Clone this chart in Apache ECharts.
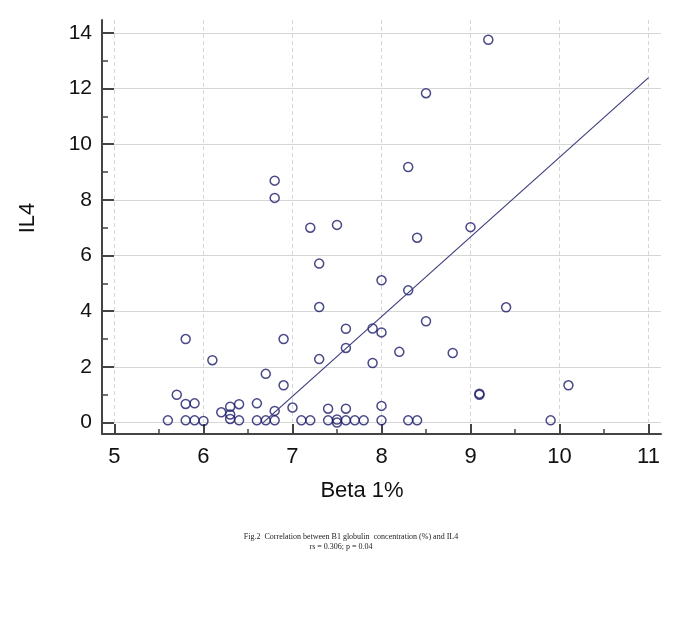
<!DOCTYPE html>
<html>
<head>
<meta charset="utf-8">
<script src="https://cdn.jsdelivr.net/npm/echarts@6/dist/echarts.min.js"></script>
<style>
  html, body { margin: 0; padding: 0; background: #ffffff; }
  #chart { width: 693px; height: 619px; }
</style>
</head>
<body>
<div id="chart"></div>
<script>
// ---- data ----
const betaValues = [
  9.2, 8.5, 8.3, 6.8, 6.8, 7.2, 7.5, 9.0, 8.4, 7.3,
  8.0, 8.3, 7.3, 9.4, 8.5, 7.6, 7.9, 8.0, 5.8, 6.9,
  7.6, 8.2, 8.8, 7.3, 6.1, 7.9, 6.7, 6.9, 10.1, 9.1,
  9.1, 5.7, 5.8, 5.9, 6.4, 6.6, 8.0, 6.3, 7.0, 7.4,
  7.6, 6.8, 6.2, 6.3, 6.3, 7.5, 7.5,
  5.6, 5.8, 5.9, 6.0, 6.4, 6.6, 6.7, 6.8, 7.1, 7.2,
  7.4, 7.6, 7.7, 7.8, 8.0, 8.3, 8.4, 9.9
];
const il4Values = [
  13.75, 11.83, 9.18, 8.69, 8.07, 7.00, 7.10, 7.02, 6.64, 5.71,
  5.11, 4.75, 4.15, 4.14, 3.64, 3.37, 3.38, 3.24, 3.00, 3.00,
  2.68, 2.54, 2.50, 2.28, 2.24, 2.14, 1.75, 1.34, 1.34, 1.04,
  1.00, 1.00, 0.67, 0.69, 0.66, 0.69, 0.60, 0.57, 0.54, 0.50,
  0.50, 0.42, 0.37, 0.29, 0.13, 0.11, 0.00,
  0.08, 0.08, 0.08, 0.06, 0.08, 0.08, 0.08, 0.08, 0.08, 0.08,
  0.08, 0.08, 0.08, 0.08, 0.08, 0.08, 0.08, 0.08
];
const fitLineX = [6.67, 11];
const fitLineY = [0, 12.39];
const xMajorTicks = [5, 6, 7, 8, 9, 10, 11];
const xMinorTicks = [5.5, 6.5, 7.5, 8.5, 9.5, 10.5];
const yMajorTicks = [0, 2, 4, 6, 8, 10, 12, 14];
const yMinorTicks = [1, 3, 5, 7, 9, 11, 13];
const xTitle = 'Beta 1%';
const yTitle = 'IL4';
const captionLine1 = 'Fig.2  Correlation between B1 globulin  concentration (%) and IL4';
const captionLine2 = 'rs = 0.306; p = 0.04';

// ---- build ----
const scatterData = betaValues.map((x, i) => [x, il4Values[i]]);
const lineData = fitLineX.map((x, i) => [x, fitLineY[i]]);

const X_MIN = 4.86, X_MAX = 11.14, Y_MIN = -0.41, Y_MAX = 14.46;
const axisColor = '#444444';
const labelFont = 'Liberation Sans, Arial, sans-serif';

const chart = echarts.init(document.getElementById('chart'), null, { renderer: 'canvas' });
chart.setOption({
  animation: false,
  backgroundColor: '#ffffff',
  grid: { left: 102, right: 32, top: 20, bottom: 185, containLabel: false },
  xAxis: [
    {
      type: 'value', position: 'bottom', min: X_MIN, max: X_MAX,
      axisLine: { show: true, onZero: false, lineStyle: { color: axisColor, width: 2 } },
      axisTick: { show: true, inside: true, length: 10, customValues: xMajorTicks,
                  lineStyle: { color: axisColor, width: 2 } },
      axisLabel: { show: true, customValues: xMajorTicks, fontSize: 22, color: '#111111',
                   fontFamily: labelFont, margin: 12 },
      splitLine: { show: true, lineStyle: { color: '#d6d6d6', width: 1, type: [4, 3] } }
    },
    {
      type: 'value', position: 'bottom', min: X_MIN, max: X_MAX,
      axisLine: { show: false, onZero: false },
      axisTick: { show: true, inside: true, length: 5, customValues: xMinorTicks,
                  lineStyle: { color: axisColor, width: 1.5 } },
      axisLabel: { show: false },
      splitLine: { show: false }
    }
  ],
  yAxis: [
    {
      type: 'value', position: 'left', min: Y_MIN, max: Y_MAX,
      axisLine: { show: true, onZero: false, lineStyle: { color: axisColor, width: 2 } },
      axisTick: { show: true, inside: true, length: 12, customValues: yMajorTicks,
                  lineStyle: { color: axisColor, width: 2 } },
      axisLabel: { show: true, customValues: yMajorTicks, fontSize: 21, color: '#111111',
                   fontFamily: labelFont, margin: 10 },
      splitLine: { show: true, lineStyle: { color: '#d6d6d6', width: 1 } }
    },
    {
      type: 'value', position: 'left', min: Y_MIN, max: Y_MAX,
      axisLine: { show: false, onZero: false },
      axisTick: { show: true, inside: true, length: 6, customValues: yMinorTicks,
                  lineStyle: { color: axisColor, width: 1.5 } },
      axisLabel: { show: false },
      splitLine: { show: false }
    }
  ],
  series: [
    {
      type: 'scatter', xAxisIndex: 0, yAxisIndex: 0,
      data: scatterData, symbol: 'circle', symbolSize: 9,
      itemStyle: { color: 'rgba(0,0,0,0)', borderColor: '#1c1c6a', borderWidth: 1.5 },
      z: 3
    },
    {
      type: 'line', xAxisIndex: 0, yAxisIndex: 0,
      data: lineData, showSymbol: false, symbol: 'none',
      lineStyle: { color: '#3e3e80', width: 1.2 },
      z: 4
    }
  ],
  graphic: [
    { type: 'text', x: 362, y: 491, style: { text: xTitle, font: '22px ' + labelFont,
      fill: '#111111', textAlign: 'center', textVerticalAlign: 'middle' } },
    { type: 'text', x: 28, y: 218, rotation: Math.PI / 2, style: { text: yTitle, font: '22px ' + labelFont,
      fill: '#111111', textAlign: 'center', textVerticalAlign: 'middle' } },
    { type: 'text', x: 351, y: 537, style: { text: captionLine1, font: '8px Liberation Serif, Times New Roman, serif',
      fill: '#222222', textAlign: 'center', textVerticalAlign: 'middle' } },
    { type: 'text', x: 341, y: 547, style: { text: captionLine2, font: '8px Liberation Serif, Times New Roman, serif',
      fill: '#222222', textAlign: 'center', textVerticalAlign: 'middle' } }
  ]
});
</script>
</body>
</html>
